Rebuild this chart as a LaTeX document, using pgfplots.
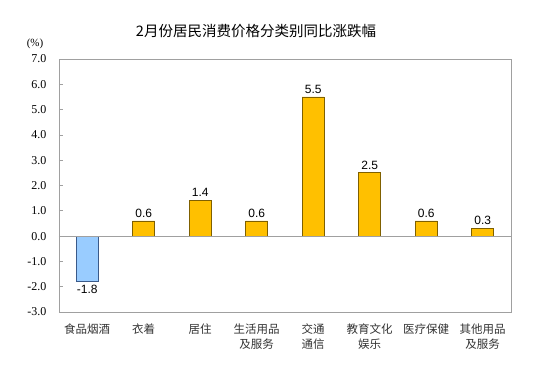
\documentclass[border=0pt]{standalone}
\usepackage{fontspec}
\usepackage{pgfplots}
\pgfplotsset{compat=1.18}
\setmainfont{Liberation Serif}
\newfontfamily\timesf{Liberation Serif}
\newfontfamily\cjk{Noto Sans CJK SC}
\newfontfamily\arial{Liberation Sans}
\definecolor{barorange}{HTML}{FFC000}
\definecolor{barblue}{HTML}{99CCFF}
\definecolor{edgebrown}{HTML}{7F6000}
\definecolor{edgeblue}{HTML}{3A5A8A}
\definecolor{framegray}{HTML}{A0A0A0}
\begin{document}
\begin{tikzpicture}[x=1pt,y=1pt]
\path[use as bounding box] (0,0) rectangle (542,378);
\node[font=\cjk\fontsize{14.5}{16}\selectfont] at (256,347) {2月份居民消费价格分类别同比涨跌幅};
\node[font=\timesf\fontsize{11}{12}\selectfont] at (35,334) {(\%)};
\begin{axis}[
  at={(59pt,66pt)}, anchor=south west,
  scale only axis, width=452pt, height=253pt,
  xmin=-0.5, xmax=7.5, ymin=-3, ymax=7,
  ytick={-3,-2,...,7},
  yticklabel={\timesf\pgfmathprintnumber[fixed,fixed zerofill,precision=1,assume math mode=true]{\tick}},
  yticklabel style={font=\timesf\fontsize{12}{12}\selectfont, xshift=-9pt},
  xtick={0,...,7},
  xticklabels={食品烟酒,衣着,居住,{生活用品\\及服务},{交通\\通信},{教育文化\\娱乐},医疗保健,{其他用品\\及服务}},
  xticklabel style={font=\cjk\fontsize{11.5}{15}\selectfont, align=center, color=black!80, yshift=-4pt},
  x tick style={draw=none},
  ytick align=inside, y tick style={color=framegray, line width=0.6pt},
  major tick length=4pt,
  ytick pos=left,
  axis line style={color=framegray, line width=0.8pt},
  ybar, bar width=22pt,
  nodes near coords,
  nodes near coords style={font=\arial\fontsize{12}{13}\selectfont, /pgf/number format/fixed, /pgf/number format/fixed zerofill, /pgf/number format/precision=1, /pgf/number format/assume math mode=true},
  clip=false,
]
\addplot[bar shift=0pt, fill=barblue, draw=edgeblue, line width=0.7pt] coordinates {(0,-1.8)};
\addplot[bar shift=0pt, fill=barorange, draw=edgebrown, line width=0.7pt] coordinates {(1,0.6) (2,1.4) (3,0.6) (4,5.5) (5,2.5) (6,0.6) (7,0.3)};
\draw[framegray, line width=0.8pt] (axis cs:-0.5,0) -- (axis cs:7.5,0);
\end{axis}
\end{tikzpicture}
\end{document}
